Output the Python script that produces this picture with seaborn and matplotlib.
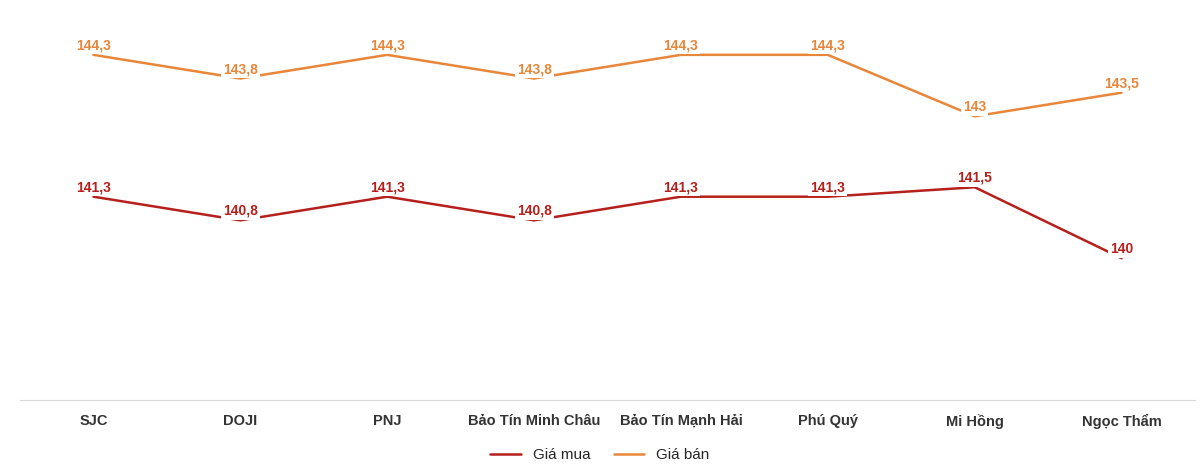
import matplotlib
matplotlib.use("Agg")
import matplotlib.pyplot as plt
import seaborn as sns
import pandas as pd

stores = ["SJC", "DOJI", "PNJ", "Bảo Tín Minh Châu", "Bảo Tín Mạnh Hải", "Phú Quý", "Mi Hồng", "Ngọc Thẩm"]
gia_mua = [141.3, 140.8, 141.3, 140.8, 141.3, 141.3, 141.5, 140.0]
gia_ban = [144.3, 143.8, 144.3, 143.8, 144.3, 144.3, 143.0, 143.5]

sns.set_style("white")
plt.rcParams["font.family"] = ["Liberation Sans", "DejaVu Sans"]

df = pd.DataFrame({"store": stores * 2,
                   "value": gia_mua + gia_ban,
                   "series": ["Giá mua"] * 8 + ["Giá bán"] * 8})
colors = {"Giá mua": "#b5201c", "Giá bán": "#e8863a"}

fig = plt.figure(figsize=(12, 4.68), dpi=100)
ax = fig.add_axes([20 / 1200, 68 / 468, 1175 / 1200, 400 / 468])
sns.lineplot(data=df, x="store", y="value", hue="series", palette=colors,
             linewidth=1.8, ax=ax, legend=False, sort=False)

for name, vals in [("Giá mua", gia_mua), ("Giá bán", gia_ban)]:
    for i, v in enumerate(vals):
        txt = f"{v:g}".replace(".", ",")
        ax.text(i, v + 0.2, txt, ha="center", va="center", fontsize=10, fontweight="bold",
                color=colors[name],
                bbox=dict(boxstyle="square,pad=0.15", fc="white", ec="none"))

ax.set_xlim(-0.5, 7.5)
ax.set_ylim(137.0, 145.46)
ax.set_yticks([])
ax.set_xlabel("")
ax.set_ylabel("")
for s in ["top", "left", "right"]:
    ax.spines[s].set_visible(False)
ax.spines["bottom"].set_color("#d9d9d9")
ax.tick_params(axis="x", length=0, labelsize=10.5, pad=10)
for lbl in ax.get_xticklabels():
    lbl.set_fontweight("bold")
    lbl.set_color("#333333")

handles = [plt.Line2D([], [], color=colors[k], lw=1.8) for k in ["Giá mua", "Giá bán"]]
fig.legend(handles, ["Giá mua", "Giá bán"], loc="center", bbox_to_anchor=(0.5, 13 / 468),
           ncol=2, frameon=False, fontsize=11, handlelength=2, columnspacing=1.5)

fig.savefig("out.png", dpi=100)
